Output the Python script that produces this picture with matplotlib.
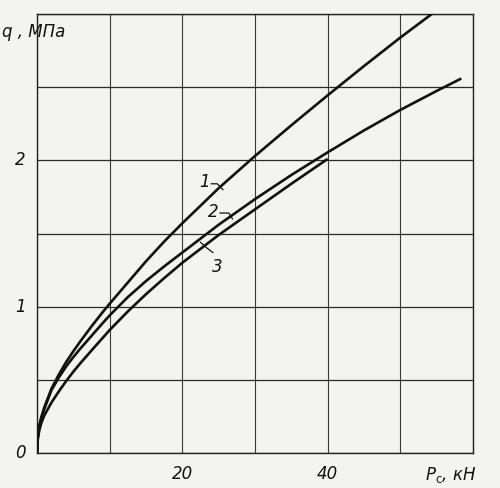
import numpy as np
import matplotlib
matplotlib.use("Agg")
import matplotlib.pyplot as plt

plt.rcParams['font.family'] = ['DejaVu Sans']
plt.rcParams['mathtext.fontset'] = 'dejavusans'

# curve 1
p1 = [0, 0.1, 0.3, 0.6, 1, 2, 3, 4, 5, 6, 7.5, 9, 10, 12.5, 15, 17.5, 20,
      25, 30, 35, 40, 45, 50, 54.3]
q1 = [0, 0.105, 0.18, 0.245, 0.31, 0.44, 0.535, 0.62, 0.695, 0.765, 0.865, 0.96, 1.02,
      1.165, 1.31, 1.445, 1.57, 1.81, 2.03, 2.24, 2.445, 2.645, 2.84, 3.0]
# curve 2
p2 = [0, 0.1, 0.3, 0.6, 1, 2, 3, 4, 5, 6, 7.5, 9, 10, 12.5, 15, 17.5, 20,
      25, 30, 35, 40, 45, 50, 55, 58.4]
q2 = [0, 0.105, 0.18, 0.24, 0.30, 0.43, 0.515, 0.59, 0.655, 0.715, 0.80, 0.885, 0.94,
      1.065, 1.175, 1.275, 1.37, 1.56, 1.735, 1.90, 2.055, 2.205, 2.345, 2.475, 2.56]
# curve 3
p3 = [0, 0.1, 0.3, 0.6, 1, 2, 3, 4, 5, 6, 7.5, 10, 12.5, 15, 17.5, 20,
      25, 30, 35, 40]
q3 = [0, 0.09, 0.15, 0.205, 0.255, 0.345, 0.42, 0.49, 0.555, 0.615, 0.70, 0.84,
      0.967, 1.085, 1.195, 1.30, 1.49, 1.665, 1.84, 2.01]

xticks = [0, 10, 20, 30, 40, 50, 60]
yticks = [0, 0.5, 1, 1.5, 2, 2.5, 3]
xlabels = {20: '20', 40: '40'}
ylabels = {0: '0', 1: '1', 2: '2'}

bg = '#f3f3f1'
ink = '#111111'

fig = plt.figure(figsize=(5, 4.88), dpi=100, facecolor=bg)
ax = fig.add_axes([0.074, 0.072, 0.872, 0.899])
ax.set_facecolor(bg)

for x in xticks:
    ax.axvline(x, color='#3a3a3a', lw=0.8, zorder=1)
for y in yticks:
    ax.axhline(y, color='#2a2a2a', lw=0.9, zorder=1)

ax.plot(p1, q1, color=ink, lw=1.9, zorder=3, solid_capstyle='butt')
ax.plot(p2, q2, color=ink, lw=1.9, zorder=3, solid_capstyle='butt')
ax.plot(p3, q3, color=ink, lw=1.9, zorder=3, solid_capstyle='butt')

ax.set_xlim(0, 60)
ax.set_ylim(0, 3)
ax.set_xticks([])
ax.set_yticks([])
for s in ax.spines.values():
    s.set_color('#222222')
    s.set_linewidth(1.0)

fs = 12
for x, t in xlabels.items():
    ax.text(x, -0.08, t, ha='center', va='top', fontsize=fs, style='italic', color=ink)
for y, t in ylabels.items():
    ax.text(-1.6, y, t, ha='right', va='center', fontsize=fs, style='italic', color=ink)

ax.text(57, -0.08, r'$P_{\mathrm{c}}$, кН', ha='center', va='top', fontsize=fs, style='italic', color=ink)
ax.text(-4.8, 2.88, 'q , МПа', ha='left', va='center', fontsize=fs, style='italic', color=ink)

# curve labels with leader ticks
ax.text(23.0, 1.85, '1', ha='center', va='center', fontsize=fs, style='italic', color=ink)
ax.plot([24.0, 24.8, 25.6], [1.84, 1.84, 1.80], color=ink, lw=0.9)
ax.text(24.2, 1.65, '2', ha='center', va='center', fontsize=fs, style='italic', color=ink)
ax.plot([25.2, 26.4, 26.9], [1.64, 1.64, 1.60], color=ink, lw=0.9)
ax.text(24.8, 1.27, '3', ha='center', va='center', fontsize=fs, style='italic', color=ink)
ax.plot([24.2, 23.4, 22.5], [1.37, 1.40, 1.44], color=ink, lw=0.9)

fig.savefig('out.png', dpi=100, facecolor=bg)
